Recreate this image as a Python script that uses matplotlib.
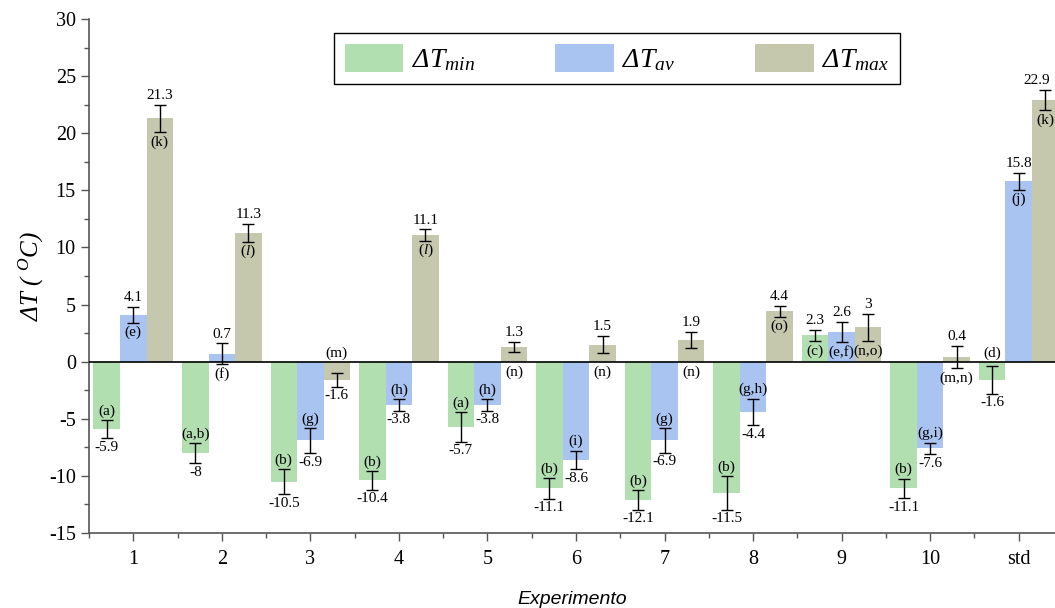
import numpy as np
import matplotlib
matplotlib.use("Agg")
from matplotlib import pyplot as plt
from matplotlib.ticker import MultipleLocator

plt.rcParams['font.family'] = 'Liberation Serif'
plt.rcParams['mathtext.fontset'] = 'custom'
plt.rcParams['mathtext.rm'] = 'Liberation Serif'
plt.rcParams['mathtext.it'] = 'Liberation Serif:italic'
plt.rcParams['axes.unicode_minus'] = False

# data
groups = ['1', '2', '3', '4', '5', '6', '7', '8', '9', '10', 'std']
t_min = [-5.9, -8, -10.5, -10.4, -5.7, -11.1, -12.1, -11.5, 2.3, -11.1, -1.6]
t_av = [4.1, 0.7, -6.9, -3.8, -3.8, -8.6, -6.9, -4.4, 2.6, -7.6, 15.8]
t_max = [21.3, 11.3, -1.6, 11.1, 1.3, 1.5, 1.9, 4.4, 3, 0.4, 22.9]
err_min = [0.78, 0.88, 1.1, 0.8, 1.3, 0.9, 0.87, 1.45, 0.5, 0.85, 1.2]
err_av = [0.68, 0.9, 1.1, 0.5, 0.5, 0.8, 1.07, 1.17, 0.88, 0.5, 0.76]
err_max = [1.2, 0.78, 0.6, 0.5, 0.43, 0.78, 0.69, 0.48, 1.2, 0.96, 0.88]
let_min = ['(a)', '(a,b)', '(b)', '(b)', '(a)', '(b)', '(b)', '(b)', '(c)', '(b)', '(d)']
let_av = ['(e)', '(f)', '(g)', '(h)', '(h)', '(i)', '(g)', '(g,h)', '(e,f)', '(g,i)', '(j)']
let_max = ['(k)', '($l$)', '(m)', '($l$)', '(n)', '(n)', '(n)', '(o)', '(n,o)', '(m,n)', '(k)']

colors = ['#b1dfb0', '#a9c4f1', '#c6c8ae']
labels = [r'Δ$T_{min}$', r'Δ$T_{av}$', r'Δ$T_{max}$']

fig = plt.figure(figsize=(10.55, 6.08), dpi=100)
ax = fig.add_axes([89/1055, 75/608, 1 - 89/1055, (533-19)/608])

x = np.arange(1, len(groups) + 1)
w = 0.3
series = [(t_min, err_min, let_min), (t_av, err_av, let_av), (t_max, err_max, let_max)]

for i, (vals, errs, lets) in enumerate(series):
    xs = x + (i - 1) * w
    ax.bar(xs, vals, width=w, color=colors[i], label=labels[i], zorder=1,
           yerr=errs, error_kw=dict(ecolor='k', elinewidth=1, capsize=4, capthick=1, zorder=4))
    for xx, v, e, l in zip(xs, vals, errs, lets):
        if v >= 0:
            vy = v + e + 0.8
            ly = v - e - 0.85
            if -0.7 < ly < 0.7:
                ly = -0.9
        else:
            vy = v - e - 0.8
            ly = v + e + 0.8
            if -0.7 < ly < 0.7:
                ly = 0.7
        tx = min(xx, 11.2)  # keep the last label inside the figure
        ax.text(tx, vy, '%g' % v, ha='center', va='center', fontsize=11)
        ax.text(xx, ly, l, ha='center', va='center', fontsize=11)

ax.axhline(0, color='k', lw=1.2, zorder=3)

ax.set_xlim(0.5, 11.41)
ax.set_ylim(-15, 30)
ax.set_xticks(x)
ax.set_xticklabels(groups, fontsize=14.5)
ax.xaxis.set_minor_locator(MultipleLocator(0.5))
ax.yaxis.set_major_locator(MultipleLocator(5))
ax.yaxis.set_minor_locator(MultipleLocator(2.5))
ax.tick_params(axis='y', labelsize=14.5)
ax.tick_params(axis='x', pad=6)
ax.tick_params(which='major', length=6, width=1, color='#555555')
ax.tick_params(which='minor', length=3.5, width=1, color='#555555')

for s in ['top', 'right']:
    ax.spines[s].set_visible(False)
for s in ['left', 'bottom']:
    ax.spines[s].set_color('#555555')
    ax.spines[s].set_linewidth(1.2)

ax.set_ylabel(r'Δ$T$ ( $^{O}C$)', fontsize=18, fontstyle='italic', labelpad=2)
ax.set_xlabel('Experimento', fontsize=14, fontstyle='italic', family='Liberation Sans', labelpad=16)

leg = ax.legend(loc='upper center', bbox_to_anchor=(617/1055, 1 - 33/608), bbox_transform=fig.transFigure,
                ncol=3, prop=dict(family='Liberation Serif', style='italic', size=20),
                frameon=True, fancybox=False, edgecolor='k', framealpha=1,
                handlelength=2.1, handleheight=1.15, handletextpad=0.3, columnspacing=2.9,
                borderpad=0.4, borderaxespad=0)
leg.get_frame().set_linewidth(1)

fig.savefig('out.png', dpi=100)
